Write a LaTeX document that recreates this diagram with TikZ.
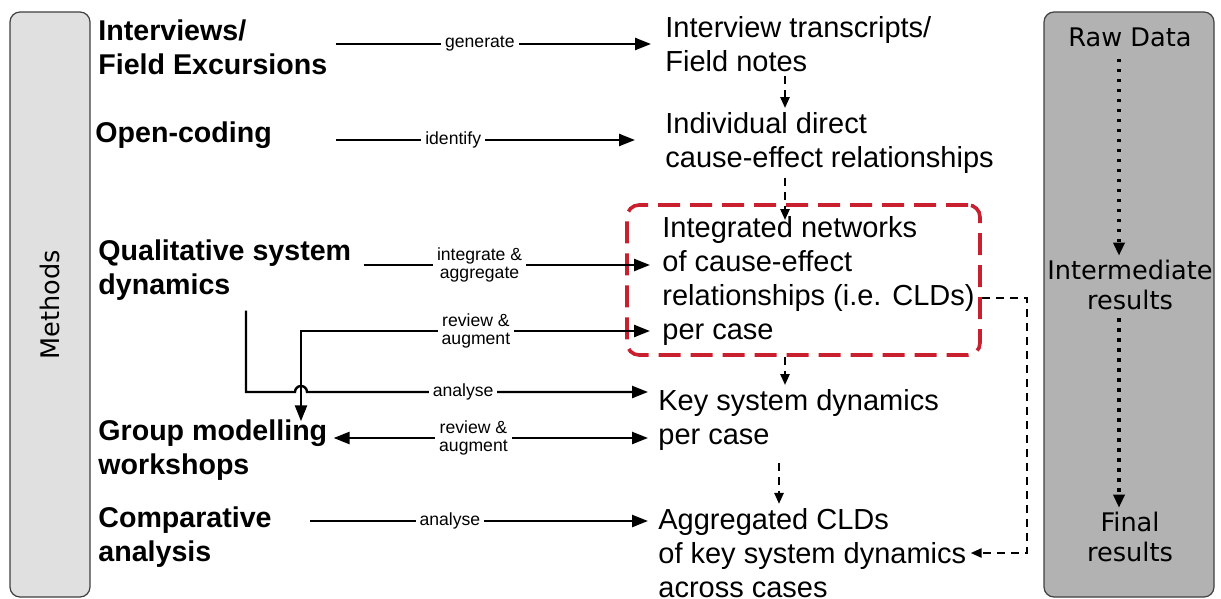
\documentclass[tikz,border=0pt]{standalone}
\usepackage{fontspec}
\setmainfont{Liberation Sans}
\newfontfamily\panelfont{DejaVu Sans}
\usetikzlibrary{arrows.meta,fit}
\definecolor{caseRed}{RGB}{200,32,46}

\begin{document}
\begin{tikzpicture}[x=0.5pt,y=-0.5pt,
    panel/.style={draw=black!75,line width=0.6pt,rounded corners=5pt,inner sep=0pt},
    paneltext/.style={align=center,inner sep=2pt,font=\panelfont\fontsize{12.8}{15}\selectfont},
    method/.style={anchor=west,align=left,inner sep=2pt,font=\fontsize{14.3}{17}\selectfont\bfseries},
    result/.style={anchor=west,align=left,inner sep=2pt,font=\fontsize{14.5}{17}\selectfont},
    lbl/.style={fill=white,inner xsep=2pt,inner ysep=1pt,align=center,font=\fontsize{8.8}{9.2}\selectfont},
    flow/.style={line width=1.2pt,-{Triangle[length=8pt,width=6pt]}},
    flowboth/.style={line width=1.2pt,{Triangle[length=8pt,width=6pt]}-{Triangle[length=8pt,width=6pt]}},
    dashflow/.style={line width=1.2pt,dash pattern=on 4pt off 3pt,-{Triangle[length=5.5pt,width=4.5pt]}},
    dotflow/.style={line width=1.6pt,dash pattern=on 1.6pt off 3.4pt,-{Triangle[length=6.5pt,width=5.5pt]}}]
  \useasboundingbox (0,0) rectangle (1221,599);

  % side panels
  \node[panel,fill=black!12,fit={(10,12) (90,597)}] (methods) {};
  \node[paneltext,rotate=90] at (methods) {Methods};
  \node[panel,fill=black!30,fit={(1044,12) (1214,597)}] (levels) {};
  \node[paneltext] (raw) at (1130,37) {Raw Data};
  \node[paneltext] (inter) at (1130,285) {Intermediate\\results};
  \node[paneltext] (final) at (1130,537) {Final\\results};
  \coordinate (dotx) at (1119,0);
  \draw[dotflow,shorten <=4pt] (raw.south -| dotx) -- (inter.north -| dotx);
  \draw[dotflow,shorten <=2pt] (inter.south -| dotx) -- (final.north -| dotx);

  % methods
  \node[method] (intv) at (94,47) {Interviews/\\Field Excursions};
  \node[method] (open) at (91,135) {Open-coding};
  \node[method] (qual) at (94,270) {Qualitative system\\dynamics};
  \node[method] (group) at (94,450) {Group modelling\\workshops};
  \node[method] (comp) at (94,537) {Comparative\\analysis};

  % results
  \node[result] (trans) at (661,44) {Interview transcripts/\\Field notes};
  \node[result] (indiv) at (661,143) {Individual direct\\cause-effect relationships};
  \node[result] (integ) at (658,281) {Integrated networks\\of cause-effect\\relationships (i.e. CLDs)\\per case};
  \node[result] (key) at (654,420) {Key system dynamics\\per case};
  \node[result] (aggr) at (654,553) {Aggregated CLDs\\of key system dynamics\\across cases};
  \node[draw=caseRed,line width=1.8pt,dash pattern=on 11pt off 5pt,rounded corners=6pt,inner sep=0pt,
    fit={(627,205) (980,355)}] (case) {};

  % result chain
  \coordinate (colx) at (785,0);
  \coordinate (colx2) at (779,0);
  \draw[dashflow] (trans.south -| colx) -- (indiv.north -| colx);
  \draw[dashflow] (indiv.south -| colx) -- ([yshift=-4pt]integ.north -| colx);
  \draw[dashflow] (case.south -| colx) -- (key.north -| colx);
  \draw[dashflow,shorten <=4pt] (key.south -| colx2) -- (aggr.north -| colx2);
  \coordinate (back) at (1027,298);
  \draw[dashflow] (case.east |- back) -- (back) |- (aggr.east);

  % method to result
  \coordinate (anx) at (246,392);
  \coordinate (rvx) at (301,331);
  \draw[flow,shorten <=2pt,shorten >=5pt] (intv.east |- trans) -- node[lbl,pos=0.45]{generate} (trans.west);
  \draw[flow,shorten <=30pt,shorten >=13pt] (open.east |- 0,140) -- node[lbl,pos=0.46]{identify} (indiv.west |- 0,140);
  \draw[flow,shorten <=4pt,shorten >=4pt] (qual.east |- 0,265) -- node[lbl,pos=0.41]{integrate \&\\aggregate} (integ.west |- 0,265);
  \draw[flowboth,shorten >=4pt,shorten <=-3pt] (group.north -| rvx) -- (rvx) -- node[lbl,pos=0.49]{review \&\\augment} (integ.west |- rvx);
  \draw[flow,shorten <=3pt,shorten >=3pt] (qual.south -| anx) -- (anx) -- (295,392) arc[start angle=180,end angle=360,radius=6]
    -- node[lbl,pos=0.45]{analyse} (key.west |- anx);
  \draw[flowboth,shorten <=1pt,shorten >=3pt] (group.east |- 0,438) -- node[lbl,pos=0.44]{review \&\\augment} (key.west |- 0,438);
  \draw[flow,shorten <=17pt,shorten >=3pt] (comp.east |- 0,521) -- node[lbl,pos=0.46]{analyse} (aggr.west |- 0,521);
\end{tikzpicture}
\end{document}
